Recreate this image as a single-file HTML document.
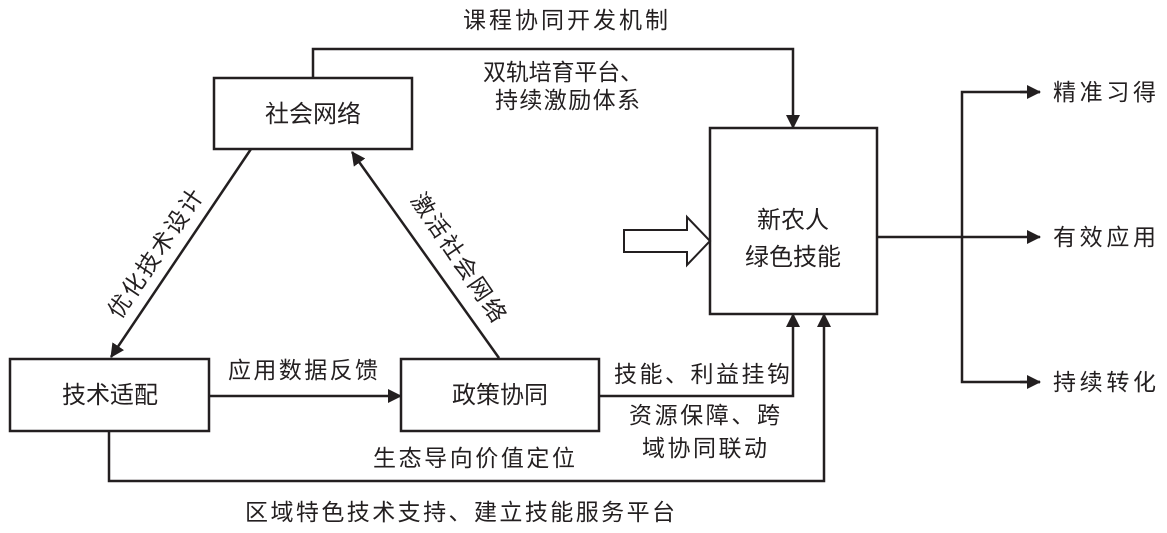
<!DOCTYPE html>
<html><head><meta charset="utf-8"><style>
html,body{margin:0;padding:0;background:#fff;}
svg text{font-family:"Liberation Sans","Noto Sans CJK SC",sans-serif;font-size:23px;fill:#231f20;}
svg text.n{font-size:24px;}
</style></head><body>
<svg width="1167" height="528" viewBox="0 0 1167 528" xmlns="http://www.w3.org/2000/svg">
<defs>
<marker id="b" markerWidth="14" markerHeight="14" refX="13" refY="7" orient="auto" markerUnits="userSpaceOnUse" viewBox="0 0 14 14">
<path d="M0,0 L14,7 L0,14 z" fill="#231f20"/></marker>
</defs>
<g fill="none" stroke="#231f20" stroke-width="2.5">
<rect x="214" y="78" width="198" height="71"/>
<rect x="10" y="359" width="199" height="72"/>
<rect x="401" y="359" width="198" height="72"/>
<rect x="710" y="128" width="167" height="186"/>
<polyline points="313,78 313,49 793,49 793,128" marker-end="url(#b)"/>
<polyline points="599,396 793,396 793,314" marker-end="url(#b)"/>
<polyline points="109,431 109,481 824,481 824,314" marker-end="url(#b)"/>
<line x1="209" y1="396" x2="401" y2="396" marker-end="url(#b)"/>
<line x1="251" y1="149" x2="111" y2="357" marker-end="url(#b)"/>
<line x1="499" y1="358" x2="352" y2="152" marker-end="url(#b)"/>
<line x1="877" y1="237" x2="1040" y2="237" marker-end="url(#b)"/>
<polyline points="1040,92 962,92 962,382 1040,382" />
<line x1="1020" y1="92" x2="1040" y2="92" marker-end="url(#b)"/>
<line x1="1020" y1="382" x2="1040" y2="382" marker-end="url(#b)"/>
<polygon points="624,230 687,230 687,217 710,241 687,265 687,252 624,252" stroke-width="2"/>
</g>
<text class="n" x="313" y="122" text-anchor="middle">社会网络</text>
<text class="n" x="110" y="403" text-anchor="middle">技术适配</text>
<text class="n" x="500" y="403" text-anchor="middle">政策协同</text>
<text class="n" x="793" y="228" text-anchor="middle">新农人</text>
<text class="n" x="793" y="265" text-anchor="middle">绿色技能</text>
<text x="463" y="28" textLength="205">课程协同开发机制</text>
<text x="483" y="80" textLength="160">双轨培育平台、</text>
<text x="495" y="108" textLength="145">持续激励体系</text>
<text x="228" y="378" textLength="150">应用数据反馈</text>
<text x="373" y="466" textLength="202">生态导向价值定位</text>
<text x="245" y="520" textLength="430">区域特色技术支持、建立技能服务平台</text>
<text x="614" y="382" textLength="176">技能、利益挂钩</text>
<text x="629" y="423" textLength="151">资源保障、跨</text>
<text x="642" y="456" textLength="125">域协同联动</text>
<text x="1053" y="100" textLength="103">精准习得</text>
<text x="1053" y="245" textLength="103">有效应用</text>
<text x="1053" y="390" textLength="103">持续转化</text>
<text transform="translate(162,258) rotate(-56)" text-anchor="middle" textLength="150">优化技术设计</text>
<text transform="translate(452,262) rotate(56)" text-anchor="middle" textLength="150">激活社会网络</text>
</svg>
</body></html>
